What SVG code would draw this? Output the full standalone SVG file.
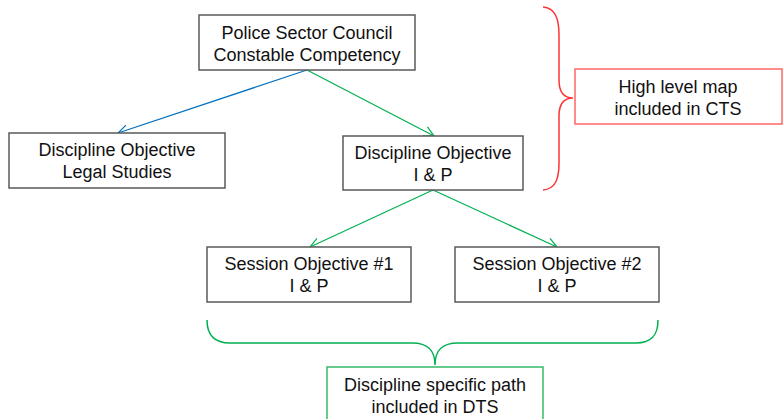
<svg xmlns="http://www.w3.org/2000/svg" width="784" height="419" viewBox="0 0 784 419">
<defs>
<style>
.box{fill:#fff;stroke:#595959;stroke-width:1.5}
.t{font-family:"Liberation Sans",Arial,sans-serif;font-size:18px;fill:#111;text-anchor:middle}
.blue{stroke:#0070C0;stroke-width:1.2;fill:none}
.green{stroke:#00B050;stroke-width:1.2;fill:none}
.red{stroke:#FF3333;stroke-width:1.5;fill:none}
.gbr{stroke:#00B050;stroke-width:1.5;fill:none}
</style>
<marker id="ab" viewBox="0 0 12 12" refX="11" refY="6" markerWidth="12" markerHeight="12" markerUnits="userSpaceOnUse" orient="auto"><path d="M1,1 L11,6 L1,11" fill="none" stroke="#0070C0" stroke-width="1.2"/></marker>
<marker id="ag" viewBox="0 0 12 12" refX="11" refY="6" markerWidth="12" markerHeight="12" markerUnits="userSpaceOnUse" orient="auto"><path d="M1,1 L11,6 L1,11" fill="none" stroke="#00B050" stroke-width="1.2"/></marker>
</defs>
<rect width="784" height="419" fill="#fff"/>
<g id="connectors">
<line class="blue" x1="307" y1="70" x2="118" y2="133" marker-end="url(#ab)"/>
<line class="green" x1="307" y1="70" x2="434" y2="136" marker-end="url(#ag)"/>
<line class="green" x1="433" y1="190" x2="310" y2="247" marker-end="url(#ag)"/>
<line class="green" x1="433" y1="190" x2="557" y2="247" marker-end="url(#ag)"/>
</g>
<g id="pscc">
<rect class="box" x="199" y="15" width="216" height="55"/>
<text class="t" x="307" y="39">Police Sector Council</text>
<text class="t" x="307" y="61">Constable Competency</text>
</g>
<g id="legal">
<rect class="box" x="9" y="133" width="216" height="55"/>
<text class="t" x="117" y="156">Discipline Objective</text>
<text class="t" x="117" y="178">Legal Studies</text>
</g>
<g id="ip">
<rect class="box" x="343" y="136" width="180" height="54"/>
<text class="t" x="433" y="159">Discipline Objective</text>
<text class="t" x="433" y="181">I &amp; P</text>
</g>
<g id="s1">
<rect class="box" x="207" y="247" width="204" height="55"/>
<text class="t" x="309" y="270">Session Objective #1</text>
<text class="t" x="309" y="292">I &amp; P</text>
</g>
<g id="s2">
<rect class="box" x="455" y="247" width="204" height="55"/>
<text class="t" x="557" y="270">Session Objective #2</text>
<text class="t" x="557" y="292">I &amp; P</text>
</g>
<g id="redbrace">
<path class="red" d="M543,7 C555,8 559,18 559,35 L559,80 C559,92 564,98 573,98 C564,98 559,104 559,116 L559,163 C559,180 555,189 543,190"/>
</g>
<g id="hlm">
<rect x="575" y="69" width="207" height="55" fill="#fff" stroke="#FF6666" stroke-width="1.5"/>
<text class="t" x="678" y="93">High level map</text>
<text class="t" x="678" y="115">included in CTS</text>
</g>
<g id="greenbrace">
<path class="gbr" d="M207,320 C207,335 214,343 230,343 L412,343 C428,343 435,350 435,365 C435,350 442,343 458,343 L636,343 C652,343 658,335 658,320"/>
</g>
<g id="dsp">
<rect x="327" y="367" width="216" height="60" fill="#fff" stroke="#33BB66" stroke-width="1.5"/>
<text class="t" x="435" y="391">Discipline specific path</text>
<text class="t" x="435" y="413">included in DTS</text>
</g>
</svg>
